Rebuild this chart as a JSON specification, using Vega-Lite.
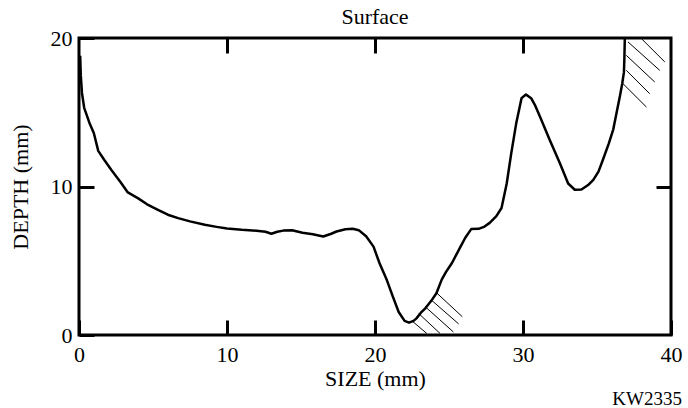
{
  "$schema": "https://vega.github.io/schema/vega-lite/v6.json",
  "width": 592,
  "height": 297,
  "autosize": "none",
  "padding": {"left": 79, "top": 38, "right": 17, "bottom": 73},
  "background": "white",
  "config": {
    "view": {"stroke": "black", "strokeWidth": 3},
    "font": "Liberation Serif",
    "axis": {
      "domain": false,
      "grid": false,
      "tickSize": -15,
      "tickWidth": 3,
      "tickColor": "black",
      "labelFont": "Liberation Serif",
      "labelFontSize": 22,
      "labelColor": "black",
      "labelFlush": false,
      "labelOverlap": false,
      "labelBound": false,
      "titleFont": "Liberation Serif",
      "titleFontSize": 22,
      "titleFontWeight": "normal",
      "titleColor": "black"
    }
  },
  "title": {
    "text": "Surface",
    "font": "Liberation Serif",
    "fontSize": 22,
    "fontWeight": "normal",
    "color": "black",
    "offset": -2
  },
  "datasets": {
    "profile": [
      {"size": 0.08, "depth": 18.8},
      {"size": 0.12, "depth": 17.5},
      {"size": 0.2, "depth": 16.3},
      {"size": 0.35, "depth": 15.3},
      {"size": 0.7, "depth": 14.3},
      {"size": 1.0, "depth": 13.6},
      {"size": 1.3, "depth": 12.4},
      {"size": 1.7, "depth": 11.8},
      {"size": 2.2, "depth": 11.1},
      {"size": 2.8, "depth": 10.3},
      {"size": 3.3, "depth": 9.6},
      {"size": 4.0, "depth": 9.2},
      {"size": 4.6, "depth": 8.8},
      {"size": 5.3, "depth": 8.45},
      {"size": 6.0, "depth": 8.1},
      {"size": 6.7, "depth": 7.87},
      {"size": 7.5, "depth": 7.65},
      {"size": 8.5, "depth": 7.42},
      {"size": 9.3, "depth": 7.28},
      {"size": 10.0, "depth": 7.17},
      {"size": 11.0, "depth": 7.08},
      {"size": 12.0, "depth": 7.02},
      {"size": 12.6, "depth": 6.95},
      {"size": 13.0, "depth": 6.82},
      {"size": 13.4, "depth": 6.95},
      {"size": 13.8, "depth": 7.03},
      {"size": 14.4, "depth": 7.05},
      {"size": 15.1, "depth": 6.88},
      {"size": 15.8, "depth": 6.78},
      {"size": 16.5, "depth": 6.63},
      {"size": 17.0, "depth": 6.8},
      {"size": 17.4, "depth": 6.97},
      {"size": 18.0, "depth": 7.12},
      {"size": 18.5, "depth": 7.15},
      {"size": 18.9, "depth": 7.06},
      {"size": 19.4, "depth": 6.65},
      {"size": 19.9, "depth": 5.95},
      {"size": 20.3, "depth": 4.85},
      {"size": 20.8, "depth": 3.7},
      {"size": 21.2, "depth": 2.6},
      {"size": 21.6, "depth": 1.55},
      {"size": 22.0, "depth": 0.95},
      {"size": 22.3, "depth": 0.83},
      {"size": 22.6, "depth": 0.95},
      {"size": 22.8, "depth": 1.12},
      {"size": 23.1, "depth": 1.5},
      {"size": 23.4, "depth": 1.8},
      {"size": 23.8, "depth": 2.3},
      {"size": 24.15, "depth": 2.81},
      {"size": 24.5, "depth": 3.71},
      {"size": 24.8, "depth": 4.25},
      {"size": 25.2, "depth": 4.85},
      {"size": 25.7, "depth": 5.8},
      {"size": 26.1, "depth": 6.55},
      {"size": 26.5, "depth": 7.13},
      {"size": 27.0, "depth": 7.15},
      {"size": 27.4, "depth": 7.3},
      {"size": 27.75, "depth": 7.55},
      {"size": 28.2, "depth": 8.0},
      {"size": 28.55, "depth": 8.55},
      {"size": 28.9, "depth": 10.2},
      {"size": 29.2, "depth": 12.2},
      {"size": 29.55, "depth": 14.3},
      {"size": 29.9, "depth": 15.95},
      {"size": 30.2, "depth": 16.2},
      {"size": 30.55, "depth": 15.95},
      {"size": 30.8, "depth": 15.5},
      {"size": 31.15, "depth": 14.7},
      {"size": 31.8, "depth": 13.15},
      {"size": 32.5, "depth": 11.55},
      {"size": 33.05, "depth": 10.2},
      {"size": 33.5, "depth": 9.78},
      {"size": 33.95, "depth": 9.8},
      {"size": 34.4, "depth": 10.1},
      {"size": 34.75, "depth": 10.45},
      {"size": 35.1, "depth": 11.0},
      {"size": 35.4, "depth": 11.8},
      {"size": 35.8, "depth": 12.9},
      {"size": 36.1, "depth": 13.85},
      {"size": 36.35, "depth": 15.1},
      {"size": 36.55, "depth": 16.1},
      {"size": 36.7, "depth": 16.9},
      {"size": 36.82, "depth": 17.7},
      {"size": 36.85, "depth": 18.6},
      {"size": 36.88, "depth": 20.0}
    ],
    "hatch": [
      {"x1": 24.15, "y1": 2.85, "x2": 25.9, "y2": 1.23},
      {"x1": 23.8, "y1": 2.36, "x2": 25.65, "y2": 0.75},
      {"x1": 23.4, "y1": 1.9, "x2": 25.3, "y2": 0.2},
      {"x1": 22.95, "y1": 1.45, "x2": 24.4, "y2": 0.1},
      {"x1": 22.5, "y1": 0.95, "x2": 23.5, "y2": 0.1},
      {"x1": 38.0, "y1": 19.96, "x2": 39.58, "y2": 18.39},
      {"x1": 37.09, "y1": 19.74, "x2": 39.24, "y2": 17.82},
      {"x1": 36.98, "y1": 18.83, "x2": 38.9, "y2": 17.04},
      {"x1": 36.98, "y1": 17.82, "x2": 38.56, "y2": 16.25},
      {"x1": 36.76, "y1": 16.92, "x2": 38.34, "y2": 15.35}
    ],
    "notes": [
      {"x": 40.74, "y": -4.3, "label": "KW2335"}
    ]
  },
  "layer": [
    {
      "data": {"name": "profile"},
      "mark": {"type": "line", "color": "black", "strokeWidth": 2.5, "strokeJoin": "round"},
      "encoding": {
        "x": {
          "field": "size",
          "type": "quantitative",
          "scale": {"domain": [0, 40], "nice": false, "zero": false},
          "axis": {"orient": "bottom", "values": [0, 10, 20, 30, 40], "labelPadding": 24, "title": "SIZE (mm)", "titlePadding": 3}
        },
        "y": {
          "field": "depth",
          "type": "quantitative",
          "scale": {"domain": [0, 20], "nice": false, "zero": false},
          "axis": {"orient": "left", "values": [0, 10, 20], "labelPadding": 22, "title": "DEPTH (mm)", "titlePadding": 18}
        }
      }
    },
    {
      "data": {"name": "hatch"},
      "mark": {"type": "rule", "color": "black", "strokeWidth": 1},
      "encoding": {
        "x": {
          "field": "x1",
          "type": "quantitative",
          "axis": {"orient": "top", "values": [10, 20, 30], "labels": false, "title": null}
        },
        "y": {
          "field": "y1",
          "type": "quantitative",
          "axis": {"orient": "right", "values": [10], "labels": false, "title": null}
        },
        "x2": {"field": "x2"},
        "y2": {"field": "y2"}
      }
    },
    {
      "data": {"name": "notes"},
      "mark": {"type": "text", "align": "right", "baseline": "middle", "font": "Liberation Serif", "fontSize": 19, "color": "black"},
      "encoding": {
        "x": {"field": "x", "type": "quantitative", "axis": null},
        "y": {"field": "y", "type": "quantitative", "axis": null},
        "text": {"field": "label"}
      }
    }
  ],
  "resolve": {"axis": {"x": "independent", "y": "independent"}}
}
